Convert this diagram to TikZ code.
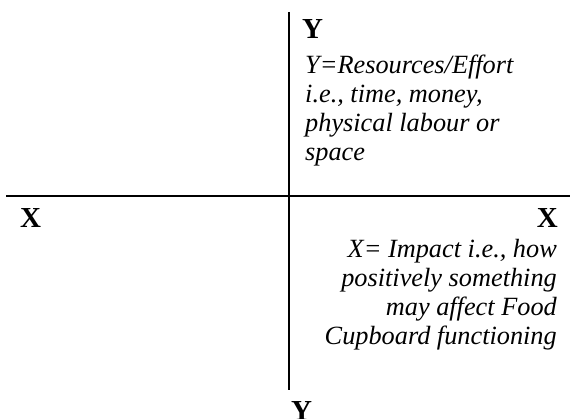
\documentclass[tikz,border=0pt]{standalone}
\usepackage{fontspec}
\setmainfont{Liberation Serif}
\begin{document}
\begin{tikzpicture}[x=1pt,y=-1pt,
  axis/.style={line width=2pt},
  lbl/.style={font=\fontsize{29}{32}\selectfont\bfseries, inner sep=0pt},
  desc/.style={font=\fontsize{26.3}{29}\selectfont\itshape, inner sep=0pt}]
\useasboundingbox (0,0) rectangle (570,419);
\coordinate (vt) at (289,12);
\coordinate (vb) at (289,390);
\coordinate (hl) at (6,196);
\coordinate (hr) at (570,196);
\draw[axis] (vt) -- (vb);
\draw[axis] (hl) -- (hr);
\node[lbl, anchor=base west] (ytop) at (302,39) {Y};
\node[desc, anchor=north west, align=left] (ydesc) at (305,55) {Y=Resources/Effort\\i.e., time, money,\\physical labour or\\space};
\node[lbl, anchor=base west] (xleft) at (20,228) {X};
\node[lbl, anchor=base east] (xright) at (558,228) {X};
\node[desc, anchor=north east, align=right] (xdesc) at (557,239) {X= Impact i.e., how\\positively something\\may affect Food\\Cupboard functioning};
\node[lbl, anchor=base west] (ybot) at (291,420) {Y};
\end{tikzpicture}
\end{document}
